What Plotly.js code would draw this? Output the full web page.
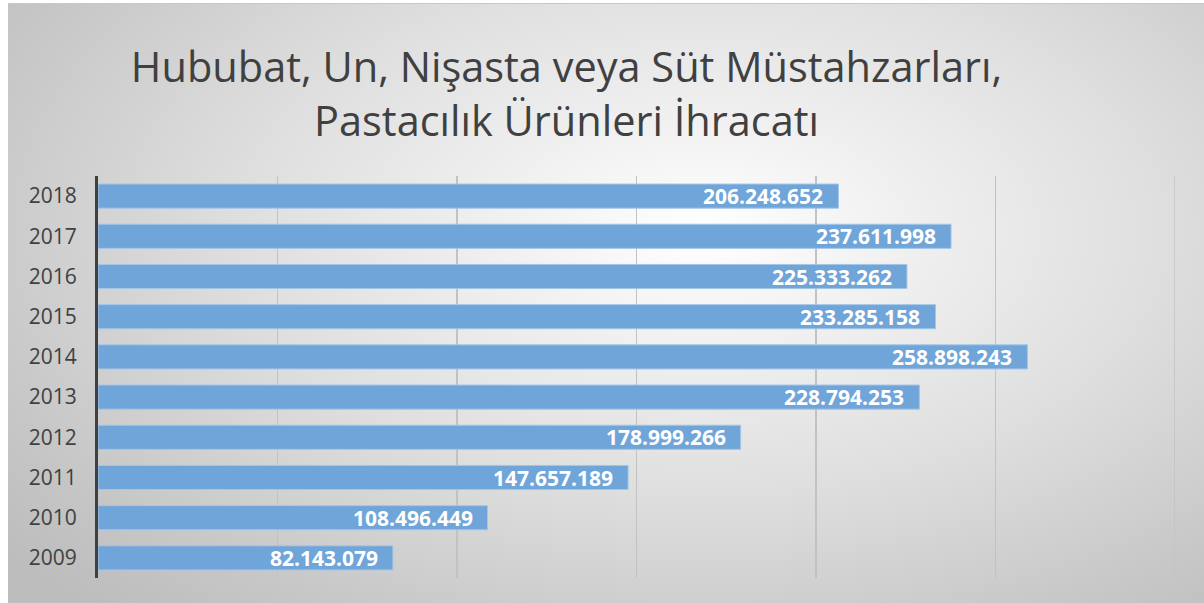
<!DOCTYPE html>
<html>
<head>
<meta charset="utf-8">
<script src="https://cdn.plot.ly/plotly-3.0.1.min.js"></script>
<style>
html,body{margin:0;padding:0;background:#ffffff;width:1204px;height:603px;overflow:hidden;}
#chart{position:absolute;left:8px;top:3px;width:1196px;height:600px;
background:radial-gradient(ellipse 75% 85% at 58% 38%, #ffffff 0%, #f3f3f3 18%, #dedede 52%, #c6c6c6 85%, #bdbdbd 100%);
border-top:1px solid #c8c8c8;box-sizing:border-box;}
</style>
</head>
<body>
<div id="chart"></div>
<script>
var years = ["2009","2010","2011","2012","2013","2014","2015","2016","2017","2018"];
var values = [82143079,108496449,147657189,178999266,228794253,258898243,233285158,225333262,237611998,206248652];
var titleText = "Hububat, Un, Nişasta veya Süt Müstahzarları,<br>Pastacılık Ürünleri İhracatı";
var axisMax = 300000000;

function fmt(n){
  var s = String(Math.round(n));
  var out = "";
  while (s.length > 3){ out = "." + s.slice(-3) + out; s = s.slice(0, -3); }
  return s + out;
}
var labels = values.map(fmt);

var trace = {
  type: "bar",
  orientation: "h",
  x: values,
  y: years,
  marker: {color: "#6fa5d9", line: {color: "#a3c6e8", width: 1}},
  width: 0.6,
  hoverinfo: "none"
};

var annotations = values.map(function(v, i){
  return {
    x: v, y: i, xref: "x", yref: "y",
    text: "<b>" + labels[i] + "</b>",
    showarrow: false, xanchor: "right", yanchor: "middle", xshift: -13,
    font: {family: "Open Sans", size: 21, color: "#ffffff"}
  };
});

var layout = {
  width: 1196, height: 600,
  paper_bgcolor: "rgba(0,0,0,0)",
  plot_bgcolor: "rgba(0,0,0,0)",
  margin: {l: 90, r: 29, t: 172, b: 26},
  title: {
    text: titleText,
    font: {family: "Open Sans", size: 41.5, color: "#404040"},
    x: 0.467, xanchor: "center", xref: "container",
    y: 0.87, yanchor: "top", yref: "container"
  },
  showlegend: false,
  xaxis: {
    range: [0, axisMax],
    dtick: 50000000,
    showgrid: true, gridcolor: "#c2c2c2", gridwidth: 1.5,
    showticklabels: false, zeroline: false, showline: false,
    fixedrange: true
  },
  yaxis: {
    type: "category",
    range: [-0.5, 9.5],
    showline: true, linecolor: "#404040", linewidth: 3,
    showgrid: false, zeroline: false,
    ticks: "", ticklabelstandoff: 14,
    tickfont: {family: "Open Sans", size: 21, color: "#404040"},
    fixedrange: true
  },
  shapes: [{
    type: "line", xref: "x", yref: "paper",
    x0: axisMax, x1: axisMax, y0: 0, y1: 1,
    line: {color: "#c2c2c2", width: 1.5}, layer: "below"
  }],
  annotations: annotations,
  font: {family: "Open Sans"}
};

Plotly.newPlot("chart", [trace], layout, {displayModeBar: false, staticPlot: true});
</script>
</body>
</html>
